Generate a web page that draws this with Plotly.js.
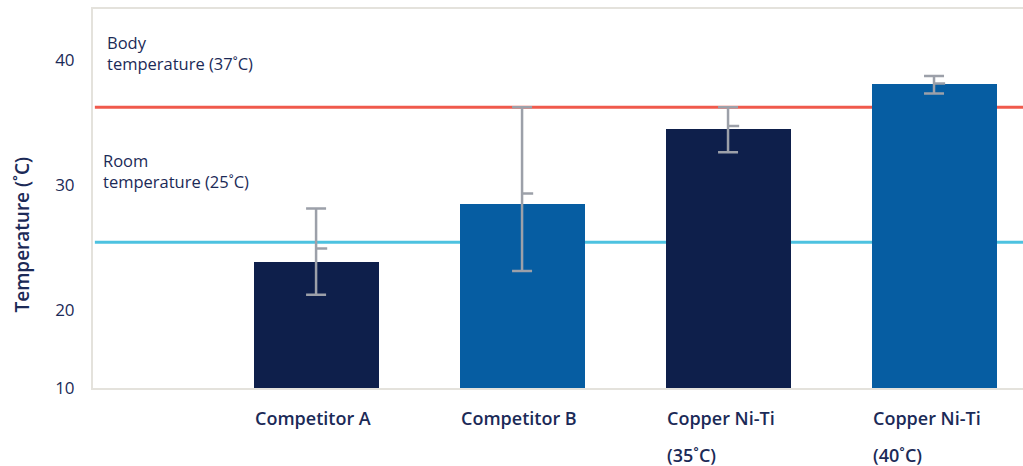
<!DOCTYPE html>
<html>
<head>
<meta charset="utf-8">
<script src="https://cdn.plot.ly/plotly-3.0.1.min.js"></script>
<style>html,body{margin:0;padding:0;background:#fff;}#chart{width:1023px;height:466px;}</style>
</head>
<body>
<div id="chart"></div>
<script>
// ---- data ----
const categories = ['Competitor A', 'Competitor B', 'Copper Ni-Ti<br>(35˚C)', 'Copper Ni-Ti<br>(40˚C)'];
const barValues = [23.8, 28.5, 34.5, 38.1];
const barColors = ['#0E1F4B', '#065DA2', '#0E1F4B', '#065DA2'];
const errMid = [24.9, 29.3, 34.7, 38.1];
const errHigh = [28.1, 36.2, 36.2, 38.7];
const errLow = [21.2, 23.1, 32.6, 37.3];
const bodyTemp = 36.2;
const roomTemp = 25.4;
const yTickVals = [13.74, 20, 30, 40];
const yTickText = ['10', '20', '30', '40'];
const refLabels = ['Body<br>temperature (37˚C)', 'Room<br>temperature (25˚C)'];

const idx = categories.map((_, i) => i);
const navy = '#1B2A57';
const font = '"Open Sans", "Noto Sans", sans-serif';

const traces = [
  {
    type: 'bar', x: idx, y: barValues, width: 0.607,
    marker: {color: barColors, line: {width: 0}},
    hoverinfo: 'skip', showlegend: false
  },
  {
    type: 'scatter', mode: 'markers', x: idx, y: errMid,
    marker: {size: 1, opacity: 0},
    error_y: {type: 'data', symmetric: false,
      array: errHigh.map((v, i) => v - errMid[i]),
      arrayminus: errMid.map((v, i) => v - errLow[i]),
      color: '#9CA0A9', thickness: 2.5, width: 10},
    error_x: {type: 'data', symmetric: false,
      array: idx.map(() => 0.054), arrayminus: idx.map(() => 0),
      color: '#9CA0A9', thickness: 2.5, width: 0},
    hoverinfo: 'skip', showlegend: false
  }
];

const annotations = [
  {text: refLabels[0], xref: 'paper', yref: 'paper', x: 0, y: 1, xshift: 12, yshift: -20,
   xanchor: 'left', yanchor: 'top', align: 'left', showarrow: false,
   font: {family: font, size: 16.5, color: navy}},
  {text: refLabels[1], xref: 'paper', yref: 'paper', x: 0, y: 1, xshift: 8, yshift: -138,
   xanchor: 'left', yanchor: 'top', align: 'left', showarrow: false,
   font: {family: font, size: 16.5, color: navy}},
  {text: 'Temperature (˚C)', xref: 'paper', yref: 'paper', x: 0, y: 0.5, xshift: -72,
   yshift: -37, textangle: -90, xanchor: 'center', yanchor: 'middle', showarrow: false,
   font: {family: font, size: 19, color: navy, weight: 600}}
];
categories.forEach((c, i) => {
  c.split('<br>').forEach((line, k) => {
    annotations.push({text: line, xref: 'x', yref: 'paper', x: i, y: 0, xshift: -63,
      yshift: -16 - 37 * k,
      xanchor: 'left', yanchor: 'top', align: 'left', showarrow: false,
      font: {family: font, size: 18, color: navy, weight: 600}});
  });
});

const layout = {
  width: 1023, height: 466,
  margin: {l: 93, r: 0, t: 9, b: 78},
  paper_bgcolor: '#fff', plot_bgcolor: '#fff',
  bargap: 0,
  xaxis: {range: [-1.083, 3.432], showgrid: false, zeroline: false,
    showline: true, mirror: true, linecolor: '#E4E2DC', linewidth: 2,
    showticklabels: false, ticks: ''},
  yaxis: {range: [13.74, 44.06], showgrid: false, zeroline: false,
    showline: true, linecolor: '#E4E2DC', linewidth: 2,
    tickvals: yTickVals, ticktext: yTickText, ticks: '', ticklabelstandoff: 13,
    tickfont: {family: font, size: 17, color: navy}},
  shapes: [
    {type: 'line', xref: 'paper', yref: 'y', x0: 0.002, x1: 1, y0: bodyTemp, y1: bodyTemp,
     line: {color: '#F05A4C', width: 3}, layer: 'below'},
    {type: 'line', xref: 'paper', yref: 'y', x0: 0.002, x1: 1, y0: roomTemp, y1: roomTemp,
     line: {color: '#4DC2E0', width: 3}, layer: 'below'}
  ],
  annotations: annotations,
  showlegend: false
};

Plotly.newPlot('chart', traces, layout, {staticPlot: true, displayModeBar: false});
</script>
</body>
</html>
